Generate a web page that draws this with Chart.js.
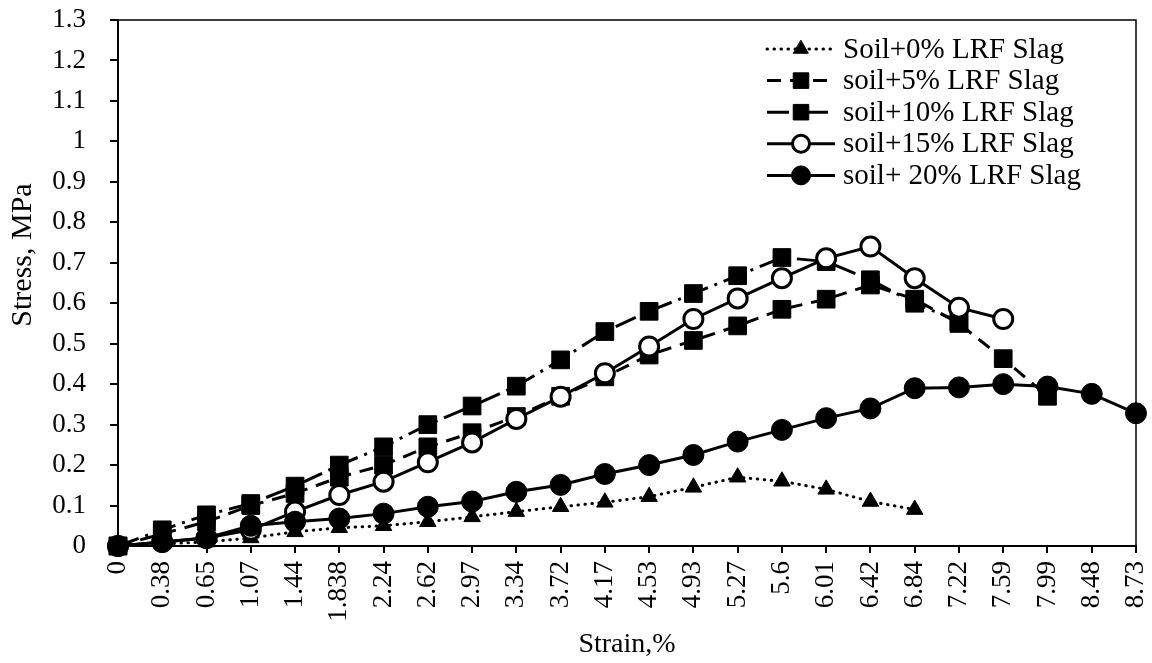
<!DOCTYPE html>
<html>
<head>
<meta charset="utf-8">
<script src="https://cdn.jsdelivr.net/npm/chart.js@4.4.0/dist/chart.umd.min.js"></script>
<style>
  html, body { margin: 0; padding: 0; background: #fff; }
</style>
</head>
<body>
<canvas id="chart" width="1152" height="663"></canvas>
<script>
// strain categories (%)
const strain = ["0", "0.38", "0.65", "1.07", "1.44", "1.838", "2.24", "2.62", "2.97", "3.34", "3.72",
  "4.17", "4.53", "4.93", "5.27", "5.6", "6.01", "6.42", "6.84", "7.22", "7.59", "7.99", "8.48", "8.73"];

// stress, MPa
const slag0 = [0, 0.005, 0.01, 0.02, 0.035, 0.045, 0.05, 0.06, 0.072, 0.085, 0.097, 0.108, 0.122, 0.145,
  0.17, 0.16, 0.14, 0.11, 0.09];
const slag5 = [0, 0.03, 0.06, 0.1, 0.13, 0.17, 0.2, 0.245, 0.28, 0.32, 0.37, 0.418, 0.472, 0.508, 0.544,
  0.585, 0.61, 0.645, 0.61, 0.55, 0.463, 0.37];
const slag10 = [0, 0.04, 0.077, 0.105, 0.148, 0.2, 0.245, 0.3, 0.346, 0.395, 0.46, 0.53, 0.58, 0.624, 0.668,
  0.713, 0.703, 0.658, 0.6, 0.555];
const slag15 = [0, 0.01, 0.02, 0.04, 0.085, 0.126, 0.159, 0.207, 0.256, 0.314, 0.369, 0.427, 0.493, 0.561,
  0.612, 0.662, 0.711, 0.74, 0.662, 0.589, 0.561];
const slag20 = [0, 0.01, 0.02, 0.05, 0.06, 0.068, 0.08, 0.097, 0.11, 0.134, 0.151, 0.178, 0.2, 0.225, 0.258,
  0.287, 0.316, 0.34, 0.39, 0.392, 0.4, 0.394, 0.376, 0.328];

const labels = ["Soil+0% LRF Slag", "soil+5% LRF Slag", "soil+10% LRF Slag", "soil+15% LRF Slag", "soil+ 20% LRF Slag"];

const FONT = "'Liberation Serif', 'Times New Roman', serif";

function series(label, data, opts) {
  return Object.assign({
    label: label,
    data: data,
    borderColor: "#000",
    backgroundColor: "#000",
    pointBorderColor: "#000",
    pointBackgroundColor: "#000",
    borderWidth: 3,
    pointBorderWidth: 1,
    tension: 0,
    clip: false
  }, opts);
}

const datasets = [
  series(labels[0], slag0, { borderDash: [0.5, 6.5], borderCapStyle: "round", pointStyle: "triangle", pointRadius: 9.5, order: 4 }),
  series(labels[1], slag5, { borderDash: [14, 9], pointStyle: "rect", pointRadius: 12.5, order: 3 }),
  series(labels[2], slag10, { borderDash: [22, 7, 3, 7], pointStyle: "rect", pointRadius: 12.5, order: 2 }),
  series(labels[3], slag15, { pointStyle: "circle", pointRadius: 9.5, pointBackgroundColor: "#fff", pointBorderWidth: 3, order: 1 }),
  series(labels[4], slag20, { pointStyle: "circle", pointRadius: 10.5, order: 0 })
];

// legend with line + marker samples, top right inside the plot
const legendPlugin = {
  id: "lineLegend",
  afterDraw(chart) {
    const ctx = chart.ctx;
    const x0 = 767, x1 = 835, tx = 843;
    chart.data.datasets.forEach((ds, i) => {
      const y = 49 + i * 31.6;
      ctx.save();
      ctx.strokeStyle = "#000";
      ctx.lineWidth = 3;
      ctx.lineCap = ds.borderCapStyle || "butt";
      ctx.setLineDash(ds.borderDash || []);
      ctx.beginPath();
      ctx.moveTo(x0, y);
      ctx.lineTo(x1, y);
      ctx.stroke();
      ctx.setLineDash([]);
      ctx.fillStyle = ds.pointBackgroundColor;
      ctx.strokeStyle = "#000";
      ctx.lineWidth = ds.pointBorderWidth;
      const r = ds.pointStyle === "rect" ? 11 : ds.pointRadius - 1;
      Chart.helpers.drawPoint(ctx, { pointStyle: ds.pointStyle, radius: r, rotation: 0, borderWidth: ds.pointBorderWidth }, (x0 + x1) / 2, y);
      ctx.fillStyle = "#000";
      ctx.font = "29px " + FONT;
      ctx.textBaseline = "middle";
      ctx.textAlign = "left";
      ctx.fillText(ds.label, tx, y + 1);
      ctx.restore();
    });
  }
};

// thin frame on top and right of the plot area, plus the y axis title
const framePlugin = {
  id: "frame",
  beforeDatasetsDraw(chart) {
    const a = chart.chartArea, ctx = chart.ctx;
    ctx.save();
    ctx.strokeStyle = "#000";
    ctx.lineWidth = 1.5;
    ctx.beginPath();
    ctx.moveTo(a.left, a.top);
    ctx.lineTo(a.right, a.top);
    ctx.lineTo(a.right, a.bottom);
    ctx.stroke();
    ctx.translate(23, 255);
    ctx.rotate(-Math.PI / 2);
    ctx.fillStyle = "#000";
    ctx.font = "30px " + FONT;
    ctx.textAlign = "center";
    ctx.textBaseline = "middle";
    ctx.fillText("Stress, MPa", 0, 0);
    ctx.restore();
  }
};

new Chart(document.getElementById("chart"), {
  type: "line",
  data: { labels: strain, datasets: datasets },
  options: {
    responsive: false,
    animation: false,
    layout: { padding: { top: 20, right: 16, left: 0, bottom: 2 } },
    plugins: { legend: { display: false }, tooltip: { enabled: false } },
    scales: {
      x: {
        offset: false,
        grid: { drawOnChartArea: false, drawTicks: true, tickLength: 7, color: "#000", lineWidth: 2 },
        border: { color: "#000", width: 2 },
        ticks: { color: "#000", font: { family: FONT, size: 27 }, minRotation: 90, maxRotation: 90, autoSkip: false, padding: 8 },
        title: { display: true, text: "Strain,%", color: "#000", font: { family: FONT, size: 28 }, padding: 0 },
        afterFit: s => { s.height = 115; s.paddingLeft = 0; s.paddingRight = 0; }
      },
      y: {
        min: 0,
        max: 1.3,
        grid: { drawOnChartArea: false, drawTicks: true, tickLength: 8, color: "#000", lineWidth: 2 },
        border: { color: "#000", width: 2 },
        ticks: {
          stepSize: 0.1, color: "#000", font: { family: FONT, size: 27 }, padding: 24,
          callback: v => String(Number(v.toFixed(1)))
        },
        afterFit: s => { s.width = 118; s.paddingTop = 0; s.paddingBottom = 0; }
      }
    }
  },
  plugins: [framePlugin, legendPlugin]
});
</script>
</body>
</html>
